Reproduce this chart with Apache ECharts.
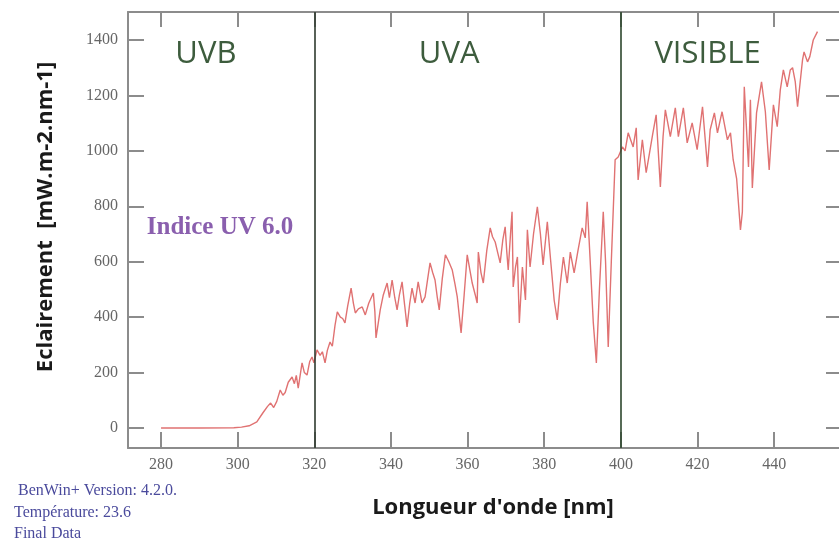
<!DOCTYPE html>
<html>
<head>
<meta charset="utf-8">
<script src="https://cdn.jsdelivr.net/npm/echarts@6/dist/echarts.min.js"></script>
<style>html,body{margin:0;padding:0;background:#fff}#c{width:839px;height:541px}</style>
</head>
<body>
<div id="c"></div>
<script>
// Wavelength (nm) and irradiance (mW.m-2.nm-1)
const wavelength = [280,290,299,301,303,305,306.6,307.8,308.6,309.4,310.2,311.1,311.8,312.4,313.2,314.2,314.8,315.3,315.8,316.8,317.4,318.1,318.8,319.4,319.9,320.7,321.5,322.1,322.8,323.4,324.1,324.7,325.4,326,326.8,327.4,328,328.7,329.6,330.2,330.7,331.5,332.5,333.3,334.2,335.4,335.8,336.1,336.7,337.2,338,339,339.6,340.3,341,341.6,342.2,342.9,343.6,344.2,344.9,345.5,346.3,347.1,348.1,348.9,349.6,350.2,350.9,351.5,352.1,352.6,353.4,354.2,355.1,356,356.7,357.3,358.3,359.1,359.9,360.6,361.2,362,362.5,362.8,363.5,364.1,365,365.9,366.5,367.2,367.9,368.5,369.2,369.8,370.2,370.6,371.2,371.6,371.9,372.5,373,373.5,374.3,375.1,375.6,376.3,377.2,378.2,379,379.7,380.8,381.7,382.6,383.4,384.2,385,385.5,386,386.8,387.8,388.8,389.9,390.7,391.2,392,392.8,393.6,394.4,395.4,396,396.7,397.5,398.5,399.3,400.4,401.1,401.9,403.2,404,404.5,405.6,406.6,407.4,408.3,409.2,410.3,411,411.6,412.9,414.2,415,416.3,417.3,418.6,419.9,421.3,422.6,423.3,424.4,425.2,426.4,427.8,428.6,429.3,430.2,431.2,431.7,432.2,432.7,433.3,433.8,434.3,435.4,436.7,437.7,438.7,439.8,440.8,441.6,442.4,443.4,444.2,444.8,445.5,446.1,447.4,447.8,448.7,449.3,450.2,451.3];
const irradiance = [0,0,1,3,8,22,55,78,90,74,96,137,118,128,165,184,160,190,144,235,200,191,240,256,235,282,262,275,235,280,310,295,370,419,400,395,379,440,505,450,415,430,437,408,450,487,420,325,380,426,480,523,470,534,470,426,480,527,440,365,450,505,451,527,451,473,540,596,560,534,470,426,540,625,600,570,520,473,343,480,625,570,523,480,451,635,560,523,640,722,690,671,630,596,680,726,640,570,700,780,509,580,617,379,581,462,715,581,700,798,700,588,744,600,460,390,520,617,570,523,635,560,640,722,686,816,600,380,235,500,780,600,292,600,968,978,1014,1000,1065,1014,1083,895,1040,921,986,1060,1130,870,1050,1148,1051,1155,1051,1155,1029,1101,1004,1159,942,1076,1137,1065,1141,1040,1065,968,900,715,780,1231,1100,942,1184,866,1137,1249,1141,931,1166,1087,1220,1292,1231,1292,1300,1250,1159,1328,1357,1321,1340,1400,1430];
const xTicks = [280,300,320,340,360,380,400,420,440];
const yTicks = [0,200,400,600,800,1000,1200,1400];
const bandEdges = [320,400];
const bandNames = ['UVB','UVA','VISIBLE'];
const bandLabelX = [291.7,355.2,422.6];
const bandLabelY = 1350;

const chart = echarts.init(document.getElementById('c'), null, {renderer:'canvas'});
const axisGrey = '#8c8c8c';
const tickFont = {fontFamily:'Liberation Serif', fontSize:16, color:'#666', formatter:(v)=>String(v)};
const xMin = 271.38, xMax = 457.7, yMin = -72.2, yMax = 1501;

const markData = bandNames.map((n,i)=>({
  coord:[bandLabelX[i], bandLabelY], symbolSize:0,
  label:{show:true, formatter:n, position:'inside', fontFamily:'Open Sans', fontSize:31, color:'#3d5c3d'}
}));
markData.push({coord:[295.4,722], symbolSize:0,
  label:{show:true, formatter:'Indice UV 6.0', position:'inside', fontFamily:'Liberation Serif', fontWeight:'bold', fontSize:25, color:'#8a5fae'}});

chart.setOption({
  animation:false,
  backgroundColor:'#fff',
  grid:{left:128, top:12, width:714, height:436, containLabel:false, outerBoundsMode:'none'},
  xAxis:[
    {type:'value', min:xMin, max:xMax, position:'bottom',
     axisLine:{show:true, onZero:false, lineStyle:{color:axisGrey, width:2}},
     axisTick:{show:true, inside:true, length:16, customValues:xTicks, lineStyle:{color:axisGrey, width:2}},
     axisLabel:{show:true, customValues:xTicks, margin:9, ...tickFont},
     splitLine:{show:false}},
    {type:'value', min:xMin, max:xMax, position:'top',
     axisLine:{show:true, onZero:false, lineStyle:{color:axisGrey, width:2}},
     axisTick:{show:true, inside:true, length:15, customValues:xTicks, lineStyle:{color:axisGrey, width:2}},
     axisLabel:{show:false}, splitLine:{show:false}}
  ],
  yAxis:[
    {type:'value', min:yMin, max:yMax, position:'left',
     axisLine:{show:true, onZero:false, lineStyle:{color:axisGrey, width:2}},
     axisTick:{show:true, inside:true, length:16, customValues:yTicks, lineStyle:{color:axisGrey, width:2}},
     axisLabel:{show:true, customValues:yTicks, margin:10, ...tickFont},
     splitLine:{show:false}},
    {type:'value', min:yMin, max:yMax, position:'right',
     axisLine:{show:true, onZero:false, lineStyle:{color:axisGrey, width:2}},
     axisTick:{show:true, inside:true, length:16, customValues:yTicks, lineStyle:{color:axisGrey, width:2}},
     axisLabel:{show:false}, splitLine:{show:false}}
  ],
  series:[{
    type:'line', xAxisIndex:0, yAxisIndex:0,
    data: wavelength.map((w,i)=>[w, irradiance[i]]),
    showSymbol:false, symbol:'none', sampling:null,
    lineStyle:{color:'#e07272', width:1.4},
    markLine:{silent:true, symbol:['none','none'], label:{show:false},
      data: bandEdges.map((v,i)=>({xAxis:v, lineStyle:{color: i===0?'#2f3a2f':'#2c472c', width:1.6, type:'solid'}}))},
    markPoint:{silent:true, symbol:'circle', data:markData}
  }],
  graphic:[
    {type:'text', x:46, y:217, rotation:Math.PI/2,
     style:{text:'Eclairement  [mW.m-2.nm-1]', font:'bold 22px "Open Sans"', fill:'#1a1a1a', textAlign:'center', textVerticalAlign:'middle'}},
    {type:'text', x:493, y:508,
     style:{text:"Longueur d'onde [nm]", font:'bold 22px "Open Sans"', fill:'#1a1a1a', textAlign:'center', textVerticalAlign:'middle'}},
    {type:'text', x:14, y:491,
     style:{text:' BenWin+ Version: 4.2.0.', font:'16px "Liberation Serif"', fill:'#4a4a9c', textAlign:'left', textVerticalAlign:'middle'}},
    {type:'text', x:14, y:513,
     style:{text:'Température: 23.6', font:'16px "Liberation Serif"', fill:'#4a4a9c', textAlign:'left', textVerticalAlign:'middle'}},
    {type:'text', x:14, y:534,
     style:{text:'Final Data', font:'16px "Liberation Serif"', fill:'#4a4a9c', textAlign:'left', textVerticalAlign:'middle'}}
  ]
});
</script>
</body>
</html>
